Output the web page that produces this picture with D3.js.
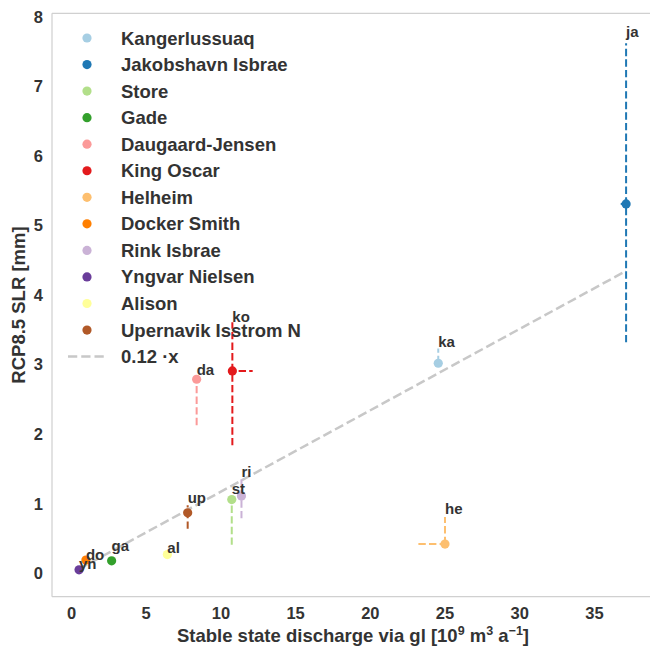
<!DOCTYPE html>
<html>
<head>
<meta charset="utf-8">
<script src="https://cdn.jsdelivr.net/npm/d3@7"></script>
<style>
  html, body { margin: 0; padding: 0; background: #fff; }
  svg text { font-family: "Liberation Sans", Arial, sans-serif; font-weight: bold; fill: #333; }
</style>
</head>
<body>
<svg id="chart" width="650" height="650"></svg>
<script>
// Glacier names, short codes and their values
const glaciers = ["Kangerlussuaq", "Jakobshavn Isbrae", "Store", "Gade", "Daugaard-Jensen",
  "King Oscar", "Helheim", "Docker Smith", "Rink Isbrae", "Yngvar Nielsen", "Alison",
  "Upernavik Isstrom N"];
const codes = ["ka", "ja", "st", "ga", "da", "ko", "he", "do", "ri", "yn", "al", "up"];

// stable state discharge via grounding line [10^9 m^3 a^-1]
const discharge     = [24.58, 37.15, 10.76, 2.72, 8.41, 10.80, 25.03, 1.00, 11.41, 0.54, 6.45, 7.81];
const dischargeLow  = [24.58, 36.79, 10.76, 2.72, 8.41, 10.51, 23.25, 1.00, 11.41, 0.54, 6.45, 7.81];
const dischargeHigh = [24.58, 37.15, 10.76, 2.72, 8.41, 12.16, 25.03, 1.00, 11.41, 0.54, 6.45, 7.81];

// RCP8.5 sea level rise [mm]
const slr     = [3.02, 5.31, 1.06, 0.18, 2.79, 2.91, 0.42, 0.19, 1.11, 0.05, 0.27, 0.87];
const slrLow  = [3.02, 3.32, 0.41, 0.18, 2.13, 1.84, 0.42, 0.19, 0.79, 0.05, 0.27, 0.64];
const slrHigh = [3.23, 7.62, 1.06, 0.18, 2.79, 3.61, 0.81, 0.19, 1.37, 0.05, 0.27, 0.98];

// linear fit through the origin
const fitSlope = 0.117;

const xTicks = [0, 5, 10, 15, 20, 25, 30, 35];
const yTicks = [0, 1, 2, 3, 4, 5, 6, 7, 8];

// vertical nudges (px) for the code labels
const labelDy = [-2, -6, -6, -10, -4, 0, -3, 0, -1, -1, -2, -2];

const colors = d3.scaleOrdinal()
  .domain(glaciers)
  .range(["#a6cee3", "#1f78b4", "#b2df8a", "#33a02c", "#fb9a99", "#e31a1c",
          "#fdbf6f", "#ff7f00", "#cab2d6", "#6a3d9a", "#ffff99", "#b15928"]);

const svg = d3.select("#chart");
const plotL = 52, plotR = 650, plotT = 13.3, plotB = 596.7;

const x = d3.scaleLinear().domain([-1.27, 38.75]).range([plotL, plotR]);
const y = d3.scaleLinear().domain([-0.336, 8.05]).range([plotB, plotT]);

// frame (left, bottom, top spines)
const spine = "#d0d0d0";
svg.append("line").attr("x1", plotL).attr("x2", plotL).attr("y1", plotT).attr("y2", plotB)
  .attr("stroke", spine).attr("stroke-width", 1.25);
svg.append("line").attr("x1", plotL).attr("x2", 650).attr("y1", plotB).attr("y2", plotB)
  .attr("stroke", spine).attr("stroke-width", 1.25);
svg.append("line").attr("x1", plotL).attr("x2", 650).attr("y1", plotT).attr("y2", plotT)
  .attr("stroke", spine).attr("stroke-width", 1.25);

// axes (labels only, no tick marks)
const xAxis = svg.append("g").attr("transform", `translate(0,${plotB})`)
  .call(d3.axisBottom(x).tickValues(xTicks).tickSize(0).tickPadding(11).tickFormat(d3.format("d")));
const yAxis = svg.append("g").attr("transform", `translate(${plotL},0)`)
  .call(d3.axisLeft(y).tickValues(yTicks).tickSize(0).tickPadding(9).tickFormat(d3.format("d")));
[xAxis, yAxis].forEach(a => {
  a.select(".domain").remove();
  a.selectAll("text").attr("font-size", 16.5).attr("fill", "#333")
    .attr("font-family", "'Liberation Sans', Arial, sans-serif");
});

// axis titles
const xt = svg.append("text").attr("x", (plotL + plotR) / 2 + 2).attr("y", 642)
  .attr("text-anchor", "middle").attr("font-size", 18.5);
xt.append("tspan").text("Stable state discharge via gl [10");
xt.append("tspan").attr("baseline-shift", "super").attr("font-size", 12.5).text("9");
xt.append("tspan").text(" m");
xt.append("tspan").attr("baseline-shift", "super").attr("font-size", 12.5).text("3");
xt.append("tspan").text(" a");
xt.append("tspan").attr("baseline-shift", "super").attr("font-size", 12.5).text("\u22121");
xt.append("tspan").text("]");

svg.append("text")
  .attr("transform", `translate(25,${(plotT + plotB) / 2}) rotate(-90)`)
  .attr("text-anchor", "middle").attr("font-size", 18.5)
  .text("RCP8.5 SLR [mm]");

const data = glaciers.map((g, i) => ({
  name: g, code: codes[i],
  x: discharge[i], xl: dischargeLow[i], xh: dischargeHigh[i],
  y: slr[i], yl: slrLow[i], yh: slrHigh[i], dy: labelDy[i]
}));

// fit line
const fitX = d3.extent(discharge);
svg.append("line")
  .attr("x1", x(fitX[0])).attr("y1", y(fitSlope * fitX[0]))
  .attr("x2", x(fitX[1])).attr("y2", y(fitSlope * fitX[1]))
  .attr("stroke", "#c8c8c8").attr("stroke-width", 2.5)
  .attr("stroke-dasharray", "9.25,4");

// error ranges
const bars = svg.append("g");
data.forEach(d => {
  if (d.yh > d.yl) {
    bars.append("line").attr("x1", x(d.x)).attr("x2", x(d.x))
      .attr("y1", y(d.yl)).attr("y2", y(d.yh))
      .attr("stroke", colors(d.name)).attr("stroke-width", 2)
      .attr("stroke-dasharray", "7.4,3.2");
  }
  if (d.xh > d.xl) {
    bars.append("line").attr("y1", y(d.y)).attr("y2", y(d.y))
      .attr("x1", x(d.xl)).attr("x2", x(d.xh))
      .attr("stroke", colors(d.name)).attr("stroke-width", 2)
      .attr("stroke-dasharray", "7.4,3.2");
  }
});

// points
svg.append("g").selectAll("circle").data(data).join("circle")
  .attr("cx", d => x(d.x)).attr("cy", d => y(d.y)).attr("r", 4.6)
  .attr("fill", d => colors(d.name));

// code labels
svg.append("g").selectAll("text").data(data).join("text")
  .attr("x", d => x(d.x)).attr("y", d => y(d.yh) + d.dy)
  .attr("font-size", 15).text(d => d.code);

// legend
const lg = svg.append("g");
const rowH = 26.55, row0 = 38;
glaciers.forEach((g, i) => {
  lg.append("circle").attr("cx", 87).attr("cy", row0 + i * rowH).attr("r", 4.6)
    .attr("fill", colors(g));
  lg.append("text").attr("x", 121).attr("y", row0 + i * rowH)
    .attr("dominant-baseline", "central").attr("font-size", 18.5).text(g);
});
const fy = row0 + glaciers.length * rowH;
lg.append("line").attr("x1", 68).attr("x2", 105).attr("y1", fy).attr("y2", fy)
  .attr("stroke", "#c8c8c8").attr("stroke-width", 2.5).attr("stroke-dasharray", "9.25,4");
lg.append("text").attr("x", 121).attr("y", fy)
  .attr("dominant-baseline", "central").attr("font-size", 18.5)
  .text(d3.format(".2f")(fitSlope) + " \u00b7x");
</script>
</body>
</html>
